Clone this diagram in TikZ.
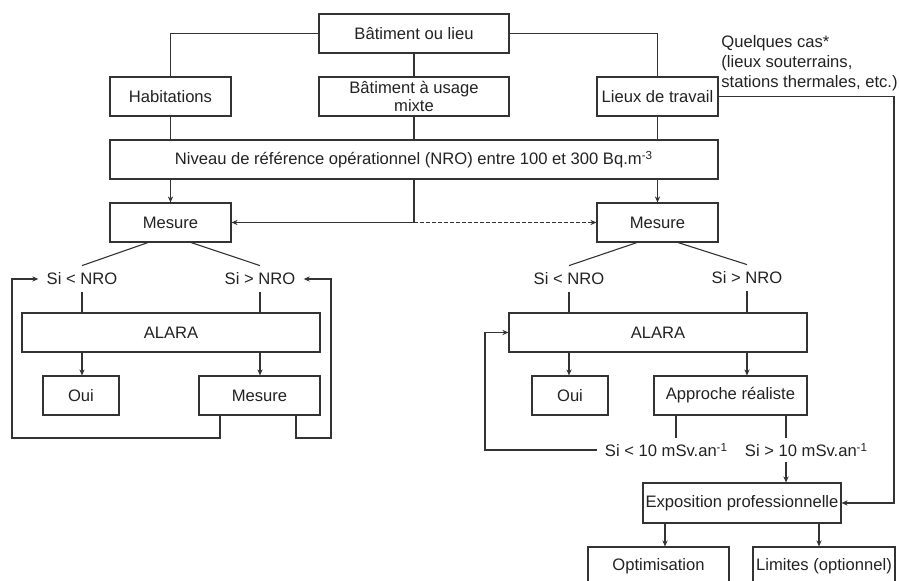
\documentclass[tikz,border=0pt]{standalone}
\usepackage{fontspec}
\setmainfont{Liberation Sans}
\usetikzlibrary{arrows.meta, positioning}
\definecolor{trait}{HTML}{333333}
\definecolor{texte}{HTML}{222222}

\begin{document}
\begin{tikzpicture}[x=0.5pt, y=-0.5pt, font=\fontsize{8.3}{10}\selectfont,
        boite/.style={rectangle, draw=trait, line width=0.55pt, minimum height=19.5pt, inner sep=0pt, align=center, text=texte},
        etiquette/.style={inner xsep=4pt, inner ysep=0pt, minimum height=13pt, text=texte},
        lien/.style={draw=trait, line width=0.55pt},
        fleche/.style={lien, -{Stealth[length=3pt, width=2.6pt]}}]
        \clip (0,0) rectangle (899,581);

        % haut
        \node at (414,33.5) [boite, minimum width=95pt] (batiment) {Bâtiment ou lieu};
        \node at (170.5,96.5) [boite, minimum width=60.5pt] (habitations) {Habitations};
        \node at (414,96.5) [boite, minimum width=95pt] (mixte) {Bâtiment à usage\\[-1pt]mixte};
        \node at (657.5,96.5) [boite, minimum width=60.5pt] (travail) {Lieux de travail};
        \node at (414,159.5) [boite, minimum width=304pt] (nro) {Niveau de référence opérationnel (NRO) entre 100 et 300 Bq.m\textsuperscript{-3}};
        \node at (721,35) [anchor=north west, align=left, inner sep=0pt, text=texte] (quelques) {Quelques cas*\\(lieux souterrains,\\stations thermales, etc.)};

        % gauche
        \node at (170.5,222.5) [boite, minimum width=60.5pt] (mesureG) {Mesure};
        \node at (82,279) [etiquette] (infG) {Si < NRO};
        \node at (260,279) [etiquette] (supG) {Si > NRO};
        \node at (171,332.5) [boite, minimum width=149pt] (alaraG) {ALARA};
        \node at (81,395.5) [boite, minimum width=38pt] (ouiG) {Oui};
        \node at (259.5,395.5) [boite, minimum width=60.5pt] (mesureG2) {Mesure};

        % droite
        \node at (657.5,222.5) [boite, minimum width=60.5pt] (mesureD) {Mesure};
        \node at (569,279) [etiquette] (infD) {Si < NRO};
        \node at (747,278) [etiquette] (supD) {Si > NRO};
        \node at (658,332.5) [boite, minimum width=149pt] (alaraD) {ALARA};
        \node at (570,395.5) [boite, minimum width=38pt] (ouiD) {Oui};
        \node at (730.5,395.5) [boite, minimum width=76.5pt] (approche) {Approche réaliste};
        \node at (666.5,450) [etiquette, minimum height=12pt] (doseInf) {Si < 10 mSv.an\textsuperscript{-1}};
        \node at (806.5,450) [etiquette, minimum height=12pt] (doseSup) {Si > 10 mSv.an\textsuperscript{-1}};
        \node at (742,503) [boite, minimum width=99pt, minimum height=20pt] (expo) {Exposition professionnelle};
        \node at (658.5,566) [boite, minimum width=70.5pt, minimum height=19pt] (optim) {Optimisation};
        \node at (824,566) [boite, minimum width=71pt, minimum height=19pt] (limites) {Limites (optionnel)};

        \draw[lien] (batiment.west) -| (habitations.north);
        \draw[lien] (batiment.south) -- (mixte.north);
        \draw[lien] (batiment.east) -| (travail.north);
        \draw[lien] (habitations.south) -- (habitations |- nro.north)
                    (mixte.south) -- (mixte |- nro.north)
                    (travail.south) -- (travail |- nro.north);
        \draw[fleche] (travail.east) -| (894,503) -- (expo.east);
        \draw[fleche] (nro.south -| mesureG) -- (mesureG.north);
        \draw[fleche] (nro.south -| mesureD) -- (mesureD.north);
        \coordinate (jonction) at (nro.south |- mesureG.east);
        \draw[lien] (nro.south) -- (jonction);
        \draw[fleche] (jonction) -- (mesureG.east);
        \draw[fleche, dash pattern=on 2pt off 1pt] (jonction) -- (mesureD.west);

        \draw[lien] ([xshift=-11.25pt]mesureG.south) -- (infG.north)
                    ([xshift=10.25pt]mesureG.south) -- (supG.north);
        \draw[lien] (infG.south) -- (infG |- alaraG.north)
                    (supG.south) -- (supG |- alaraG.north);
        \draw[fleche] (infG |- alaraG.south) -- (infG |- ouiG.north);
        \draw[fleche] (supG |- alaraG.south) -- (supG |- mesureG2.north);
        \draw[fleche] ([xshift=-19.75pt]mesureG2.south) |- (12,438) |- (infG.west);
        \draw[fleche] ([xshift=18.25pt]mesureG2.south) |- (331,438) |- (supG.east);

        \draw[lien] ([xshift=-10.25pt]mesureD.south) -- (infD.north)
                    ([xshift=10.25pt]mesureD.south) -- (supD.north);
        \draw[lien] (infD.south) -- (infD |- alaraD.north)
                    (supD.south) -- (supD |- alaraD.north);
        \draw[fleche] (infD |- alaraD.south) -- (infD |- ouiD.north);
        \draw[fleche] (supD |- alaraD.south) -- (supD |- approche.north);
        \coordinate (pA) at ([xshift=-27.25pt]approche.south);
        \coordinate (pB) at ([xshift=27.75pt]approche.south);
        \draw[lien] (pA) -- (pA |- doseInf.north)
                    (pB) -- (pB |- doseSup.north);
        \draw[fleche] (pB |- doseSup.south) -- (pB |- expo.north);
        \draw[fleche] (doseInf.west) -| (485,332.5) -- (alaraD.west);
        \coordinate (pC) at ([xshift=-38.5pt]expo.south);
        \coordinate (pD) at ([xshift=38.5pt]expo.south);
        \draw[fleche] (pC) -- (pC |- optim.north);
        \draw[fleche] (pD) -- (pD |- limites.north);
\end{tikzpicture}
\end{document}
